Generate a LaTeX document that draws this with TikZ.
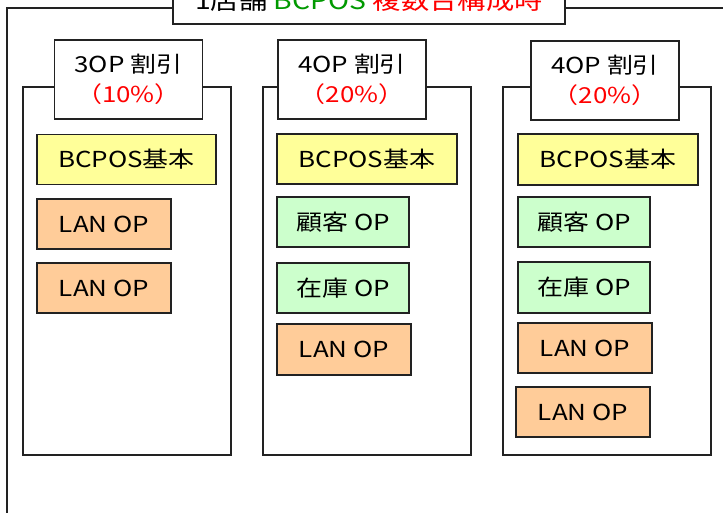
\documentclass[tikz,border=0pt]{standalone}
\usepackage{fontspec}
\setmainfont[FakeStretch=1.18]{Noto Sans CJK JP}
\definecolor{ylw}{RGB}{255,255,153}
\definecolor{org}{RGB}{255,204,153}
\definecolor{grn}{RGB}{204,255,204}
\definecolor{ttlgreen}{RGB}{0,153,0}
\definecolor{linec}{RGB}{34,34,34}
\tikzset{
  rect/.style={draw=linec, line width=1.5pt, inner sep=0pt, text=black,
    font=\fontsize{22}{30}\selectfont, align=center},
  frame/.style={draw=linec, line width=1.5pt},
  basebox/.style={rect, fill=ylw, minimum width=180pt, minimum height=50pt},
  lanbox/.style={rect, fill=org, minimum width=134pt, minimum height=50pt},
  optbox/.style={rect, fill=grn, minimum width=132pt, minimum height=50pt},
  labelbox/.style={rect, fill=white, minimum width=148pt, minimum height=79pt},
}
\begin{document}
\begin{tikzpicture}[x=1pt,y=-1pt]
\useasboundingbox (0,0) rectangle (723,513);
% outer frame
\node[rect, fill=white, minimum width=392pt, minimum height=48pt,
  font=\fontsize{24}{28}\selectfont] (title) at (369,0)
  {1店舗 \textcolor{ttlgreen}{BCPOS} \textcolor{red}{複数台構成時}};
\coordinate (obl) at (7,530);
\coordinate (otl) at (7,8);
\coordinate (otr) at (740,8);
\draw[frame] (obl) -- (otl) -- (otl -| title.west);
\draw[frame] (otr -| title.east) -- (otr);

% column 1
\draw[frame, fill=white] (23,87) rectangle (231,455);
\node[labelbox] (l1) at (128.5,79.5) {3OP 割引\\\textcolor{red}{（10\%）}};
\node[basebox, minimum width=179pt] (b1) at (126.5,159.5) {BCPOS基本};
\node[lanbox] (lan1a) at (104,224) {LAN OP};
\node[lanbox] (lan1b) at (104,288) {LAN OP};

% column 2
\draw[frame, fill=white] (263,87) rectangle (471,455);
\node[labelbox] (l2) at (352,79.5) {4OP 割引\\\textcolor{red}{（20\%）}};
\node[basebox] (b2) at (367,159) {BCPOS基本};
\node[optbox] (cust2) at (343,222) {顧客 OP};
\node[optbox] (stock2) at (343,288) {在庫 OP};
\node[lanbox, minimum height=51pt] (lan2) at (344,349.5) {LAN OP};

% column 3
\draw[frame, fill=white] (503,87) rectangle (711,455);
\node[labelbox] (l3) at (605,80.5) {4OP 割引\\\textcolor{red}{（20\%）}};
\node[basebox, minimum height=51pt] (b3) at (608,159.5) {BCPOS基本};
\node[optbox] (cust3) at (584,222) {顧客 OP};
\node[optbox, minimum height=51pt] (stock3) at (584,287.5) {在庫 OP};
\node[lanbox] (lan3a) at (585,348) {LAN OP};
\node[lanbox] (lan3b) at (583,412) {LAN OP};
\end{tikzpicture}
\end{document}
